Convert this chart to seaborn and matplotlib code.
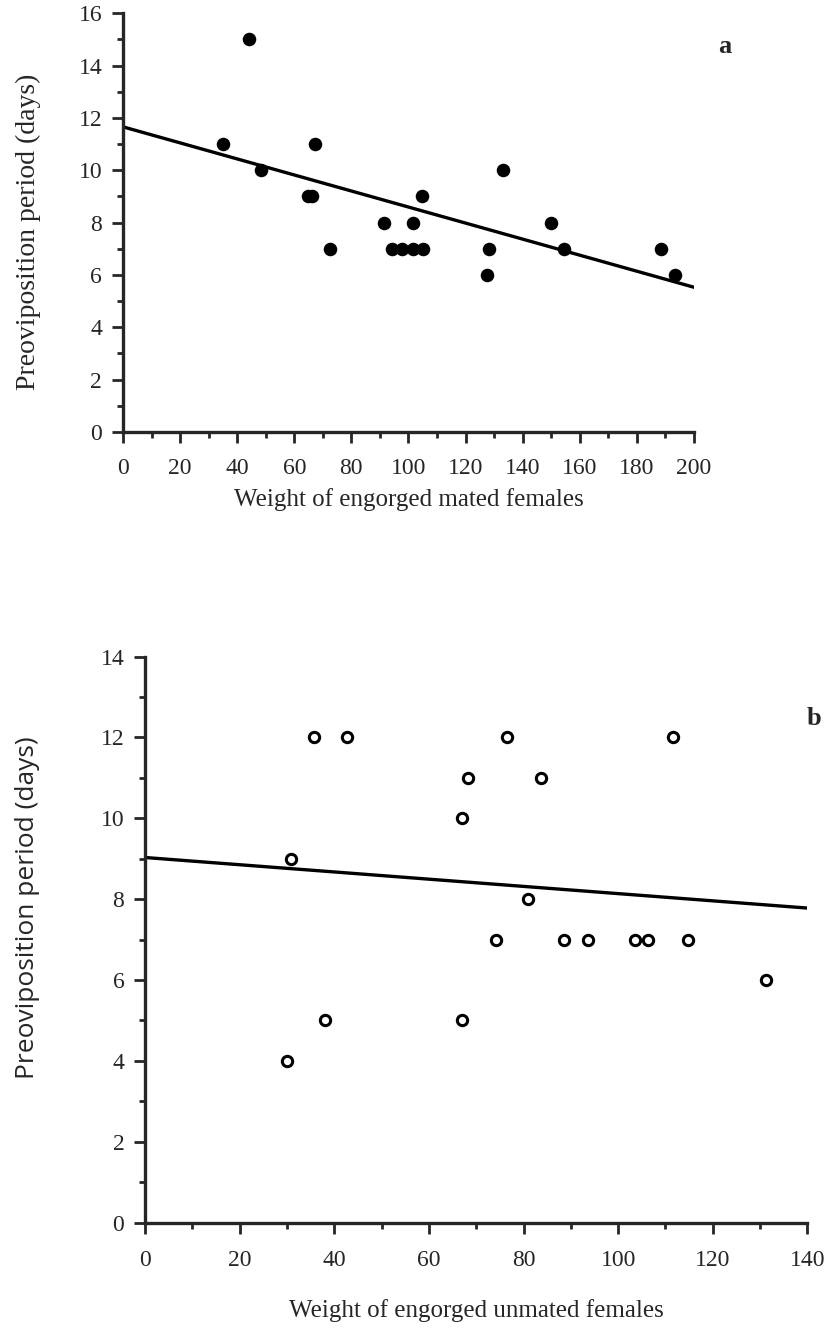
import numpy as np
import pandas as pd
import matplotlib
matplotlib.use("Agg")
import matplotlib.pyplot as plt
from matplotlib.ticker import MultipleLocator
import seaborn as sns

# Panel a: mated females
mated_weight = [34.9, 44.3, 48.4, 64.8, 66.2, 67.1, 72.6, 91.6, 94.4, 97.9, 101.6, 101.6,
                104.8, 105.2, 127.6, 128.3, 133.2, 149.8, 154.6, 188.5, 193.4]
mated_days = [11, 15, 10, 9, 9, 11, 7, 8, 7, 7, 7, 8, 9, 7, 6, 7, 10, 8, 7, 7, 6]
mated_fit_x = [0, 200]
mated_fit_y = [11.66, 5.53]

# Panel b: unmated females
unmated_weight = [35.6, 42.7, 76.5, 111.6, 68.3, 83.8, 67.1, 30.9, 80.9, 74.2, 88.5,
                  93.6, 103.6, 106.4, 114.7, 131.3, 38.1, 66.9, 30.0]
unmated_days = [12, 12, 12, 12, 11, 11, 10, 9, 8, 7, 7, 7, 7, 7, 7, 6, 5, 5, 4]
unmated_fit_x = [0, 140]
unmated_fit_y = [9.03, 7.78]

ylabel = "Preoviposition period (days)"
xlabel_a = "Weight of engorged mated females"
xlabel_b = "Weight of engorged unmated females"

sns.set_style("ticks")
plt.rcParams["font.family"] = ["Liberation Serif", "DejaVu Serif"]

fig = plt.figure(figsize=(8.34, 13.29), dpi=100)
ax_a = fig.add_axes([0.1475, 0.675, 0.6845, 0.315])
ax_b = fig.add_axes([0.174, 0.080, 0.794, 0.426])

df_a = pd.DataFrame({"w": mated_weight, "d": mated_days})
df_b = pd.DataFrame({"w": unmated_weight, "d": unmated_days})
fit_a = pd.DataFrame({"x": mated_fit_x, "y": mated_fit_y})
fit_b = pd.DataFrame({"x": unmated_fit_x, "y": unmated_fit_y})

sns.lineplot(data=fit_a, x="x", y="y", ax=ax_a, color="black", lw=2.4)
sns.scatterplot(data=df_a, x="w", y="d", ax=ax_a, color="black", s=95,
                edgecolor="black", linewidth=0, zorder=3)

sns.lineplot(data=fit_b, x="x", y="y", ax=ax_b, color="black", lw=2.4)
sns.scatterplot(data=df_b, x="w", y="d", ax=ax_b, facecolor="white", s=55,
                edgecolor="black", linewidth=2.2, zorder=3)

for ax, xmax, ymax, xpad in [(ax_a, 200, 16, 10.5), (ax_b, 140, 14, 11.5)]:
    ax.set_xlim(0, xmax)
    ax.set_ylim(0, ymax)
    ax.xaxis.set_major_locator(MultipleLocator(20))
    ax.xaxis.set_minor_locator(MultipleLocator(10))
    ax.yaxis.set_major_locator(MultipleLocator(2))
    ax.yaxis.set_minor_locator(MultipleLocator(1))
    for s in ["top", "right"]:
        ax.spines[s].set_visible(False)
    for s in ["left", "bottom"]:
        ax.spines[s].set_linewidth(2.4)
    ax.tick_params(which="major", length=8, width=2, direction="out", labelsize=17)
    ax.tick_params(axis="y", which="major", pad=7)
    ax.tick_params(axis="x", which="major", pad=xpad)
    ax.tick_params(which="minor", length=4.5, width=2, direction="out")
    ax.spines["left"].set_bounds(0, ymax)
    ax.spines["bottom"].set_bounds(0, xmax)
    for lab in ax.get_xticklabels() + ax.get_yticklabels():
        lab.set_family(["Liberation Serif", "DejaVu Serif"])

ax_a.set_xlabel(xlabel_a, fontsize=18)
ax_a.set_ylabel(ylabel, fontsize=20)
ax_b.set_xlabel(xlabel_b, fontsize=18)
ax_b.set_ylabel(ylabel, fontsize=19, family=["Open Sans", "DejaVu Sans"])

ax_a.xaxis.set_label_coords(0.5, -0.162)
ax_a.xaxis.label.set_va("center")
ax_a.yaxis.set_label_coords(-0.166, 0.477)
ax_a.yaxis.label.set_va("center")
ax_b.xaxis.set_label_coords(0.5, -0.155)
ax_b.xaxis.label.set_va("center")
ax_b.yaxis.set_label_coords(-0.177, 0.557)
ax_b.yaxis.label.set_va("center")

ax_a.text(1.054, 0.92, "a", transform=ax_a.transAxes, fontsize=19, fontweight="bold",
          ha="center", va="center")
ax_b.text(1.01, 0.89, "b", transform=ax_b.transAxes, fontsize=19, fontweight="bold",
          ha="center", va="center")

fig.savefig("out.png", dpi=100)
